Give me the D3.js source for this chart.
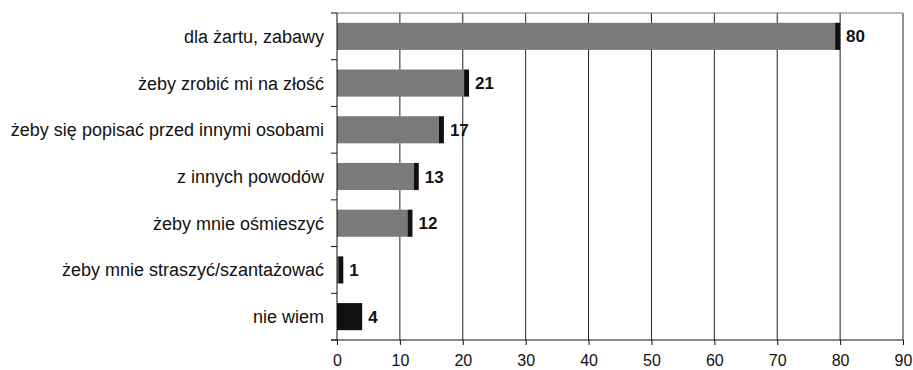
<!DOCTYPE html>
<html><head><meta charset="utf-8">
<script src="https://cdn.jsdelivr.net/npm/d3@7"></script>
<style>body{margin:0;background:#fff}svg{display:block}text{font-family:"Liberation Sans",Arial,sans-serif}</style>
</head><body>
<svg id="c" width="913" height="370"></svg>
<script>
const categories = ["dla żartu, zabawy","żeby zrobić mi na złość","żeby się popisać przed innymi osobami","z innych powodów","żeby mnie ośmieszyć","żeby mnie straszyć/szantażować","nie wiem"];
const values = [80,21,17,13,12,1,4];
const ticks = [0,10,20,30,40,50,60,70,80,90];

const svg = d3.select("#c");
const m = {l:337, r:903, t:13, b:340};
const x = d3.scaleLinear().domain([0,90]).range([m.l,m.r]);
const y = d3.scaleBand().domain(categories).range([m.t,m.b]).paddingInner(0.42).paddingOuter(0.21);

// gridlines
svg.append("g").selectAll("line").data(ticks.slice(1)).join("line")
  .attr("x1",d=>x(d)).attr("x2",d=>x(d)).attr("y1",m.t).attr("y2",m.b)
  .attr("stroke","#222").attr("stroke-width",1);
// top frame
svg.append("line").attr("x1",m.l).attr("x2",m.r).attr("y1",m.t).attr("y2",m.t).attr("stroke","#777").attr("stroke-width",1);

// bars
const last = categories.length-1;
const g = svg.append("g");
categories.forEach((c,i)=>{
  const w = x(values[i])-x(0);
  const dark = i===last ? w : Math.min(5,w);
  if (w-dark>0) g.append("rect").attr("x",x(0)).attr("y",y(c)).attr("width",w-dark).attr("height",y.bandwidth()).attr("fill","#7a7a7a");
  g.append("rect").attr("x",x(values[i])-dark).attr("y",y(c)).attr("width",dark).attr("height",y.bandwidth()).attr("fill","#111");
  g.append("text").attr("x",x(values[i])+6).attr("y",y(c)+y.bandwidth()/2).attr("dy","0.36em")
    .attr("font-size",17).attr("font-weight","bold").attr("fill","#111").text(values[i]);
});

// y axis
const ya = svg.append("g").attr("transform",`translate(${m.l},0)`);
ya.append("line").attr("y1",m.t).attr("y2",m.b).attr("stroke","#111");
const step = (m.b-m.t)/categories.length;
ya.selectAll("line.t").data(d3.range(categories.length+1)).join("line").attr("class","t")
  .attr("x1",-6).attr("x2",0).attr("y1",d=>m.t+d*step).attr("y2",d=>m.t+d*step).attr("stroke","#111");
ya.selectAll("text").data(categories).join("text")
  .attr("x",-13).attr("y",d=>y(d)+y.bandwidth()/2).attr("dy","0.36em").attr("text-anchor","end")
  .attr("font-size",18).attr("fill","#111").text(d=>d);

// x axis
const xa = svg.append("g").attr("transform",`translate(0,${m.b})`)
  .call(d3.axisBottom(x).tickValues(ticks).tickSize(5).tickPadding(10));
xa.select(".domain").attr("stroke","#111").attr("d",`M${m.l-6},0H${m.r}`);
xa.selectAll(".tick line").attr("stroke","#111");
xa.selectAll(".tick text").attr("font-size",16).attr("fill","#111").attr("font-family","Liberation Sans, Arial, sans-serif");
</script>
</body></html>
